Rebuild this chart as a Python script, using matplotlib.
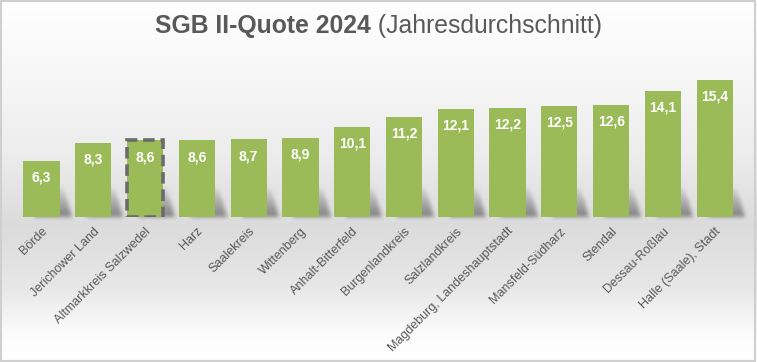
import numpy as np
import matplotlib
matplotlib.use("Agg")
import matplotlib.pyplot as plt
from matplotlib.patches import Rectangle

plt.rcParams['font.family'] = ['Liberation Sans', 'DejaVu Sans']

categories = ["Börde", "Jerichower Land", "Altmarkkreis Salzwedel", "Harz", "Saalekreis",
              "Wittenberg", "Anhalt-Bitterfeld", "Burgenlandkreis", "Salzlandkreis",
              "Magdeburg, Landeshauptstadt", "Mansfeld-Südharz", "Stendal",
              "Dessau-Roßlau", "Halle (Saale), Stadt"]
values = [6.3, 8.3, 8.6, 8.6, 8.7, 8.9, 10.1, 11.2, 12.1, 12.2, 12.5, 12.6, 14.1, 15.4]
value_labels = ["6,3", "8,3", "8,6", "8,6", "8,7", "8,9", "10,1", "11,2", "12,1", "12,2",
                "12,5", "12,6", "14,1", "15,4"]
highlight = "Altmarkkreis Salzwedel"

W, H = 757, 362
fig = plt.figure(figsize=(W / 100, H / 100), dpi=100)

# background gradient
bg = fig.add_axes([0, 0, 1, 1], zorder=-10)
ys = np.arange(H)
stops_y = [0, 60, 150, 225, 285, 335, 362]
stops_v = [1.0, 0.975, 0.93, 0.86, 0.905, 0.99, 1.0]
col = np.interp(ys, stops_y, stops_v)
base = np.repeat(col[:, None], W, axis=1)
im = bg.imshow(np.dstack([base, base, base]), aspect='auto', extent=[0, W, 0, H],
               origin='upper', interpolation='nearest')
bg.set_xlim(0, W); bg.set_ylim(0, H)
bg.axis('off')

ax = fig.add_axes([15.6 / W, (H - 217) / H, 725 / W, 157 / H])
ax.patch.set_alpha(0)
n = len(categories)
x = np.arange(n)
bw = 0.70

bars = ax.bar(x, values, width=bw, color='#9bbb59', zorder=2)
for b, c in zip(bars, categories):
    if c == highlight:
        b.set_edgecolor('#6b6b6b')
        b.set_linewidth(2.6)
        b.set_linestyle((0, (3.2, 1.6)))

for xi, v, lab in zip(x, values, value_labels):
    ax.annotate(lab, (xi, v), xytext=(0, -7), textcoords='offset points',
                ha='center', va='top', color='white', fontsize=10, fontweight='bold', zorder=3)

ax.set_xlim(-0.5, n - 0.5)
ax.set_ylim(0, 157 / 8.92)
ax.set_yticks([])
ax.set_xticks(x)
ax.set_xticklabels(categories, rotation=45, ha='right', rotation_mode='anchor',
                   fontsize=9, color='#595959')
ax.tick_params(axis='x', length=0, pad=6)
for s in ax.spines.values():
    s.set_visible(False)

# title
t1 = fig.text(0.5, 1 - 26 / H, "SGB II-Quote 2024", fontsize=17.8, fontweight='bold',
              color='#595959', ha='right', va='center')
fig.canvas.draw()
r = fig.canvas.get_renderer()
w1 = t1.get_window_extent(r).width
t2 = fig.text(0.5, 1 - 26 / H, " (Jahresdurchschnitt)", fontsize=17.8, color='#595959',
              ha='left', va='center')
w2 = t2.get_window_extent(r).width
tot = w1 + w2
left = (W - tot) / 2
t1.set_x((left + w1) / W)
t2.set_x((left + w1) / W)

# soft bar shadows, computed from bar extents
S = np.zeros((H, W))
hs = 30
for b in bars:
    bb = b.get_window_extent(r)
    L, R = int(round(bb.x0)), int(round(bb.x1))
    yb = int(round(H - bb.y0))
    for dy in range(hs):
        row = yb - 1 - dy
        if row < 0:
            break
        frac = 1 - dy / hs
        off = int(round(3 + 9 * frac))
        a, c = max(L + off, 0), min(R + off, W)
        S[row, a:c] = np.maximum(S[row, a:c], frac ** 0.8)

def blur(A, k):
    ker = np.ones(k) / k
    A = np.apply_along_axis(lambda m: np.convolve(m, ker, mode='same'), 1, A)
    A = np.apply_along_axis(lambda m: np.convolve(m, ker, mode='same'), 0, A)
    return A

S = blur(blur(S, 5), 5)
shaded = base * (1 - 0.4 * S)
im.set_data(np.dstack([shaded, shaded, shaded]))

fig.patches.append(Rectangle((0.001, 0.002), 0.997, 0.995, transform=fig.transFigure,
                             fill=False, edgecolor='#cfcfcf', linewidth=1.5))

fig.savefig("out.png", dpi=100)
